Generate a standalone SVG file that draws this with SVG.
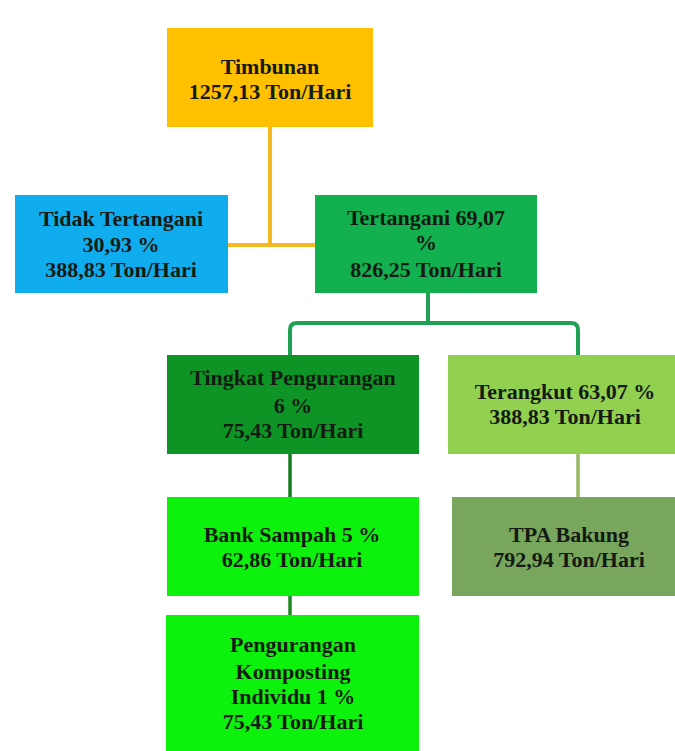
<svg xmlns="http://www.w3.org/2000/svg" width="675" height="751" viewBox="0 0 675 751">
<style>
text{font-family:"Liberation Serif","Times New Roman",serif;font-weight:bold;font-size:22px;fill:#141a14;text-anchor:middle}
.c{fill:none;stroke-linejoin:round;stroke-linecap:butt}
</style>
<rect width="675" height="751" fill="#ffffff"/>
<g id="connectors">
<path class="c" d="M270 127 V245 M228 245 H315" stroke="#F5B922" stroke-width="4"/>
<path class="c" d="M428 293 V323 M290 355 V330 Q290 323 297 323 H571 Q578 323 578 330 V355" stroke="#1FA055" stroke-width="4"/>
<path class="c" d="M290 454 V497" stroke="#157A20" stroke-width="3.5"/>
<path class="c" d="M290 596 V615" stroke="#1C8A24" stroke-width="3.5"/>
<path class="c" d="M578 454 V497" stroke="#97B865" stroke-width="3.5"/>
</g>
<g id="timbunan">
<rect x="167" y="28" width="206" height="99" fill="#FFC000"/>
<text x="270" y="74">Timbunan</text>
<text x="270" y="99">1257,13 Ton/Hari</text>
</g>
<g id="tidak-tertangani">
<rect x="15" y="195" width="213" height="98" fill="#10ADEE"/>
<text x="121" y="226">Tidak Tertangani</text>
<text x="121" y="252">30,93 %</text>
<text x="121" y="277">388,83 Ton/Hari</text>
</g>
<g id="tertangani">
<rect x="315" y="195" width="222" height="98" fill="#12B04E"/>
<text x="426" y="225">Tertangani 69,07</text>
<text x="426" y="250">%</text>
<text x="426" y="277">826,25 Ton/Hari</text>
</g>
<g id="tingkat-pengurangan">
<rect x="167" y="355" width="252" height="99" fill="#0E9424"/>
<text x="293" y="385">Tingkat Pengurangan</text>
<text x="293" y="413">6 %</text>
<text x="293" y="438">75,43 Ton/Hari</text>
</g>
<g id="terangkut">
<rect x="448" y="355" width="240" height="99" fill="#92D050"/>
<text x="565" y="399">Terangkut 63,07 %</text>
<text x="565" y="424">388,83 Ton/Hari</text>
</g>
<g id="bank-sampah">
<rect x="167" y="497" width="252" height="99" fill="#0DF20D"/>
<text x="292" y="542">Bank Sampah 5 %</text>
<text x="292" y="567">62,86 Ton/Hari</text>
</g>
<g id="tpa-bakung">
<rect x="452" y="497" width="240" height="99" fill="#78A65C"/>
<text x="569" y="542">TPA Bakung</text>
<text x="569" y="567">792,94 Ton/Hari</text>
</g>
<g id="pengurangan-komposting">
<rect x="166" y="615" width="253" height="136" fill="#0DF20D"/>
<text x="293" y="652">Pengurangan</text>
<text x="293" y="679">Komposting</text>
<text x="293" y="704">Individu 1 %</text>
<text x="293" y="729">75,43 Ton/Hari</text>
</g>
</svg>
